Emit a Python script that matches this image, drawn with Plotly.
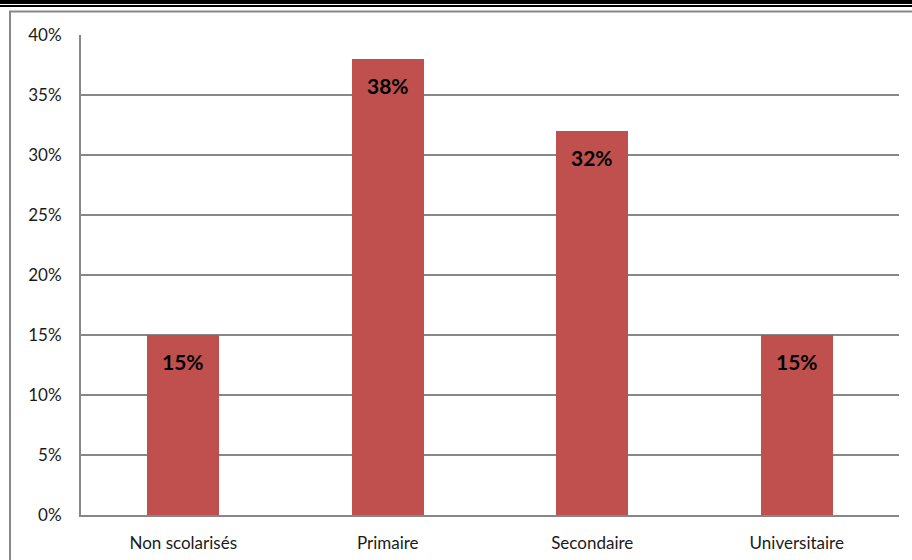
import plotly.graph_objects as go

categories = ["Non scolarisés", "Primaire", "Secondaire", "Universitaire"]
values = [15, 38, 32, 15]
tick_vals = [0, 5, 10, 15, 20, 25, 30, 35, 40]
tick_text = [f"{v}%" for v in tick_vals]

W, H = 912, 560
L, R, T, B = 81, 13, 35, 45
pw, ph = W - L - R, H - T - B

def px_x(x):
    return (x - L) / pw

def px_y(y):
    return 1 - (y - T) / ph

fig = go.Figure()
fig.add_trace(go.Bar(
    x=categories, y=values, marker_color="#C0504D",
    marker_line_width=0, width=0.352, hoverinfo="skip",
))

for c, v in zip(categories, values):
    fig.add_annotation(x=c, y=v, text=f"<b>{v}%</b>", showarrow=False,
                       yshift=-26, font=dict(family="Lato, Open Sans, sans-serif", size=21, color="#000000"))

shapes = [
    dict(type="rect", xref="paper", yref="paper", x0=px_x(0), x1=px_x(W), y0=px_y(4), y1=px_y(0),
         fillcolor="black", line_width=0, layer="above"),
    dict(type="rect", xref="paper", yref="paper", x0=px_x(0), x1=px_x(W), y0=px_y(7), y1=px_y(5),
         fillcolor="black", line_width=0, layer="above"),
    dict(type="rect", xref="paper", yref="paper", x0=px_x(10), x1=px_x(W + 5), y0=px_y(H + 5), y1=px_y(11.5),
         fillcolor="rgba(0,0,0,0)", line=dict(color="#878787", width=2), layer="below"),
]

fig.update_layout(
    width=W, height=H,
    margin=dict(l=L, r=R, t=T, b=B, pad=0, autoexpand=False),
    paper_bgcolor="white", plot_bgcolor="white",
    showlegend=False, shapes=shapes,
    font=dict(family="Lato, Open Sans, sans-serif", size=17, color="#1a1a1a"),
    xaxis=dict(showgrid=False, showline=True, linecolor="#878787", linewidth=2,
               ticks="", ticklabelstandoff=12, tickfont=dict(size=17), fixedrange=True,
               automargin=False),
    yaxis=dict(range=[0, 40], tickvals=tick_vals, ticktext=tick_text,
               showgrid=True, gridcolor="#878787", gridwidth=2,
               showline=True, linecolor="#878787", linewidth=2,
               ticks="", ticklabelstandoff=14, tickfont=dict(size=17), zeroline=False, fixedrange=True,
               automargin=False),
    bargap=0,
)

fig.write_html("out.html", config={"displayModeBar": False},
               post_script="document.body.style.margin='0';document.body.style.overflow='hidden';")
